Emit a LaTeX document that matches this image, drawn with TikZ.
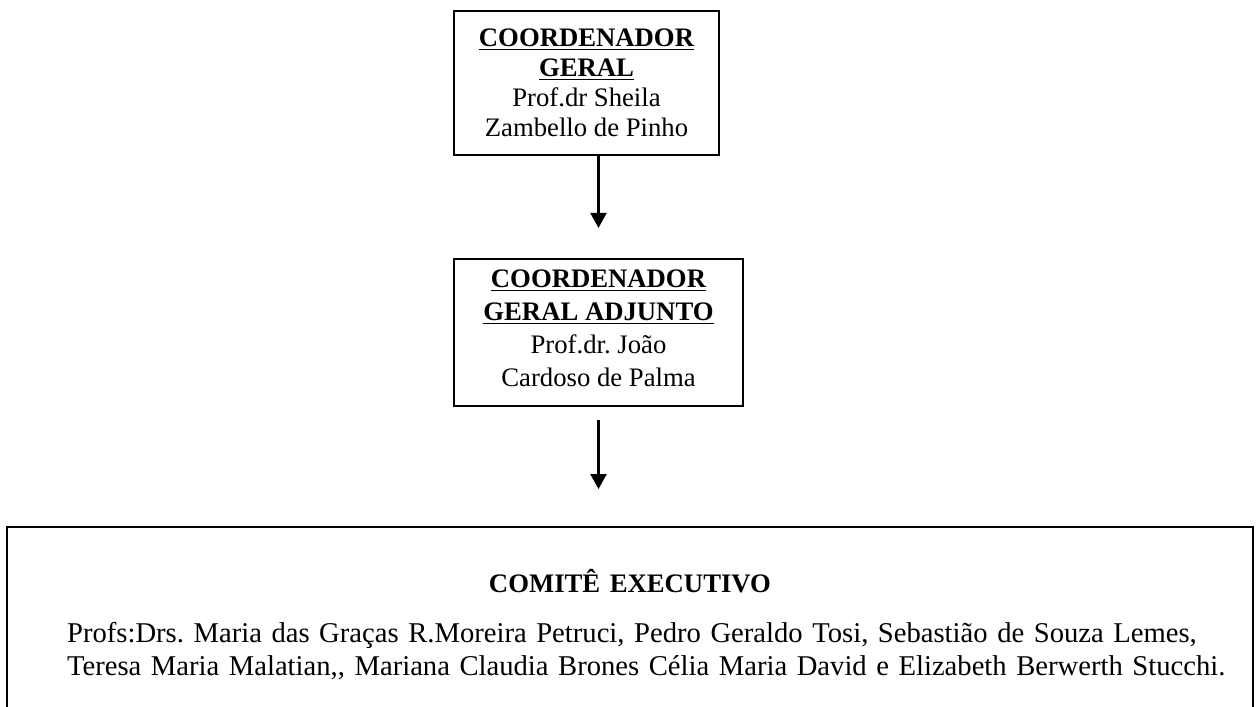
\documentclass[tikz,border=0pt]{standalone}
\usepackage{fontspec}
\setmainfont{Liberation Serif}
\usepackage{tikz}
\usetikzlibrary{arrows.meta,positioning,calc}
\tikzstyle{box} = [draw=black,line width=1.1pt,align=center,inner sep=0pt]
\tikzstyle{arrow} = [line width=1.2pt,-{Triangle[width=0.32cm,length=0.3cm]},draw=black]
\newcommand{\cargo}[1]{\textbf{\underline{#1}}}
\frenchspacing

\begin{document}
\begin{tikzpicture}[x=0.02cm,y=-0.02cm]
        \useasboundingbox (0,0) rectangle (1256,706);
        \node (geral) [box, minimum width=5.3cm, minimum height=2.88cm,
            font=\fontsize{15.2pt}{17.1pt}\selectfont] at (586.5,83)
            {\cargo{COORDENADOR}\\\cargo{GERAL}\\Prof.dr Sheila\\Zambello de Pinho};
        \node (adjunto) [box, minimum width=5.78cm, minimum height=2.94cm,
            font=\fontsize{15.2pt}{18.7pt}\selectfont,
            below=2.04cm of geral, xshift=0.24cm]
            {\cargo{COORDENADOR}\\\cargo{GERAL ADJUNTO}\\Prof.dr. João\\Cardoso de Palma\rule[-0.16cm]{0pt}{0.16cm}};
        \node (comite) [box, minimum width=24.92cm, minimum height=3.92cm,
            text width=22.52cm, align=left,
            font=\fontsize{16.3pt}{18.8pt}\selectfont] at (630,625)
            {\makebox[\linewidth]{\fontsize{15.2pt}{18.8pt}\selectfont\bfseries COMITÊ EXECUTIVO}\\[0.34cm]
             \mbox{Profs:Drs. Maria das Graças R.Moreira Petruci, Pedro Geraldo Tosi, Sebastião de Souza Lemes,}\\
             \mbox{Teresa Maria Malatian,{},{} Mariana Claudia Brones Célia Maria David e Elizabeth Berwerth Stucchi.}};

        \draw[arrow] (adjunto.north |- geral.south) -- ([yshift=0.6cm]adjunto.north);
        \draw[arrow] ([yshift=-0.26cm]adjunto.south) -- ($(adjunto.south |- comite.north)+(0,-37)$);
    \end{tikzpicture}
\end{document}
